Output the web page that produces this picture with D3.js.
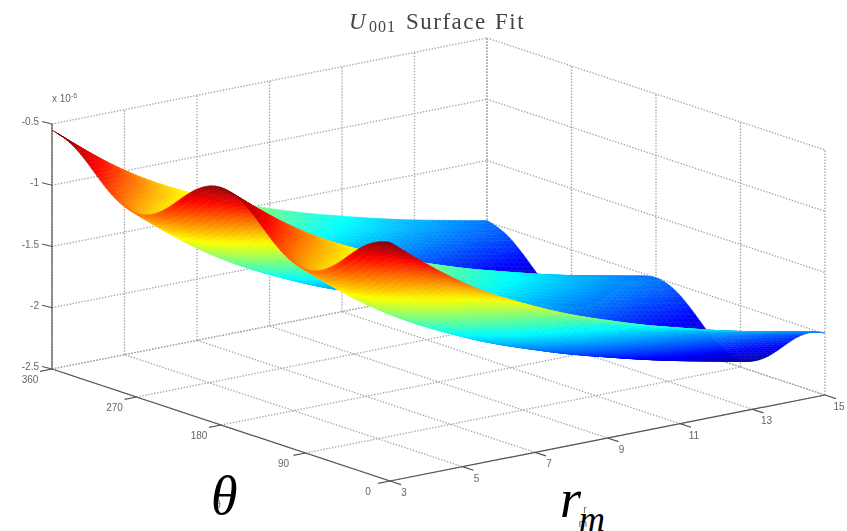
<!DOCTYPE html>
<html>
<head>
<meta charset="utf-8">
<script src="https://cdn.jsdelivr.net/npm/d3@7"></script>
<style>
  html, body { margin: 0; padding: 0; background: #fff; }
  svg { display: block; }
  .tick { font-family: "Liberation Sans", sans-serif; font-size: 10px; fill: #666; }
</style>
</head>
<body>
<div id="chart"></div>
<script>
/*** VALUES ***/

var rTicks = [3, 5, 7, 9, 11, 13, 15];
var thetaTicks = [0, 90, 180, 270, 360];
var zTicks = [-2.5, -2, -1.5, -1, -0.5];
var zTickLabels = ["-2.5", "-2", "-1.5", "-1", "-0.5"];

// height of the ridge (theta = 0, 180, 360) at r = 3, 4 ... 15, in units of 1e-6
var ridgeZ = [-0.55, -0.79, -1.0, -1.17, -1.31, -1.44, -1.54, -1.64, -1.72, -1.80, -1.87, -1.93, -1.99];
// how far the surface drops below the ridge at theta = 0, 15 ... 360
var waveDrop = [0, -0.03, -0.11, -0.23, -0.35, -0.43, -0.46, -0.43, -0.35, -0.23, -0.11, -0.03,
                0, -0.03, -0.11, -0.23, -0.35, -0.43, -0.46, -0.43, -0.35, -0.23, -0.11, -0.03, 0];

/*** PROJECTION OF THE BOX ON THE SCREEN ***/

var width = 847;
var height = 531;
var originX = 390;
var originY = 481;

var rX = d3.scaleLinear().domain([3, 15]).range([0, 435]);
var rY = d3.scaleLinear().domain([3, 15]).range([0, -86]);
var thetaX = d3.scaleLinear().domain([0, 360]).range([0, -338]);
var thetaY = d3.scaleLinear().domain([0, 360]).range([0, -112]);
var zY = d3.scaleLinear().domain([-2.5, -0.5]).range([0, -245]);

function project(r, theta, z) {
    return [originX + rX(r) + thetaX(theta), originY + rY(r) + thetaY(theta) + zY(z)];
}

var jet = d3.scaleLinear()
    .domain([0, 0.125, 0.375, 0.625, 0.875, 1])
    .range(["#00007f", "#0000ff", "#00ffff", "#ffff00", "#ff0000", "#7f0000"]);
var zToColor = d3.scaleLinear().domain([-2.44, -0.55]).range([0, 1]).clamp(true);

var ridge = d3.interpolateBasis(ridgeZ);
var wave = d3.interpolateBasis(waveDrop);
var rPos = d3.scaleLinear().domain([3, 15]).range([0, 1]);
var thetaPos = d3.scaleLinear().domain([0, 360]).range([0, 1]);

function surfaceZ(r, theta) {
    return ridge(rPos(r)) + wave(thetaPos(theta));
}

var line = d3.line();

var svg = d3.select("#chart").append("svg")
    .attr("width", width)
    .attr("height", height);

// the reference is a soft, upscaled bitmap
var chart = svg.append("g").style("filter", "blur(0.7px)");

/*** GRID ***/

var gridLines = [];
rTicks.forEach(function (r) {
    gridLines.push([project(r, 0, -2.5), project(r, 360, -2.5)]);
    gridLines.push([project(r, 360, -2.5), project(r, 360, -0.5)]);
});
thetaTicks.forEach(function (t) {
    gridLines.push([project(3, t, -2.5), project(15, t, -2.5)]);
    gridLines.push([project(15, t, -2.5), project(15, t, -0.5)]);
});
zTicks.forEach(function (z) {
    gridLines.push([project(3, 360, z), project(15, 360, z)]);
    gridLines.push([project(15, 360, z), project(15, 0, z)]);
});

chart.append("g").selectAll("path")
    .data(gridLines)
    .enter()
    .append("path")
    .attr("d", line)
    .attr("fill", "none")
    .attr("stroke", "#a4a4a4")
    .attr("stroke-width", 1.3)
    .attr("stroke-dasharray", "1.4 1.6");

/*** AXES ***/

var axisLines = [
    [project(3, 360, -2.5), project(3, 360, -0.5)],
    [project(3, 360, -2.5), project(3, 0, -2.5)],
    [project(3, 0, -2.5), project(15, 0, -2.5)]
];
var tickLines = [];
var rTickDir = [11, 3.6];
var thetaTickDir = [-12, 2.4];
var zTickDir = [-10, -2.5];
rTicks.forEach(function (r) {
    var p = project(r, 0, -2.5);
    tickLines.push([p, [p[0] + rTickDir[0], p[1] + rTickDir[1]]]);
});
thetaTicks.forEach(function (t) {
    var p = project(3, t, -2.5);
    tickLines.push([p, [p[0] + thetaTickDir[0], p[1] + thetaTickDir[1]]]);
});
zTicks.forEach(function (z) {
    var p = project(3, 360, z);
    tickLines.push([p, [p[0] + zTickDir[0], p[1] + zTickDir[1]]]);
});

chart.append("g").selectAll("path")
    .data(axisLines.concat(tickLines))
    .enter()
    .append("path")
    .attr("d", line)
    .attr("fill", "none")
    .attr("stroke", "#555")
    .attr("stroke-width", 1.2);

/*** TICK LABELS ***/

chart.append("g").selectAll("text")
    .data(rTicks)
    .enter()
    .append("text")
    .attr("class", "tick")
    .attr("text-anchor", "middle")
    .attr("x", function (d) { return project(d, 0, -2.5)[0] + 14; })
    .attr("y", function (d) { return project(d, 0, -2.5)[1] + 15; })
    .text(function (d) { return d; });

chart.append("g").selectAll("text")
    .data(thetaTicks)
    .enter()
    .append("text")
    .attr("class", "tick")
    .attr("text-anchor", "middle")
    .attr("x", function (d) { return project(3, d, -2.5)[0] - 22; })
    .attr("y", function (d) { return project(3, d, -2.5)[1] + 14; })
    .text(function (d) { return d; });

chart.append("g").selectAll("text")
    .data(zTicks)
    .enter()
    .append("text")
    .attr("class", "tick")
    .attr("text-anchor", "end")
    .attr("x", function (d) { return project(3, 360, d)[0] - 13; })
    .attr("y", function (d) { return project(3, 360, d)[1] + 1; })
    .text(function (d, i) { return zTickLabels[i]; });

var exponent = chart.append("text")
    .attr("class", "tick")
    .attr("x", 52)
    .attr("y", 102);
exponent.append("tspan").text("x 10");
exponent.append("tspan").attr("dy", -4).style("font-size", "7px").text("-6");

/*** SURFACE: back cells first so that the near ones paint over them ***/

var rStep = 0.15;
var thetaStep = 3;
var rSteps = d3.range(0, 80).map(function (i) { return 15 - (i + 1) * rStep; });
var thetaSteps = d3.range(0, 120).map(function (i) { return 360 - i * thetaStep; });
var cells = [];
thetaSteps.forEach(function (t) {
    rSteps.forEach(function (r) {
        var r2 = r + rStep;
        var t2 = t - thetaStep;
        cells.push({
            corners: [
                project(r, t, surfaceZ(r, t)),
                project(r2, t, surfaceZ(r2, t)),
                project(r2, t2, surfaceZ(r2, t2)),
                project(r, t2, surfaceZ(r, t2))
            ],
            z: surfaceZ(r + rStep / 2, t - thetaStep / 2)
        });
    });
});

chart.append("g").selectAll("path")
    .data(cells)
    .enter()
    .append("path")
    .attr("d", function (d) { return line(d.corners) + "Z"; })
    .attr("fill", function (d) { return jet(zToColor(d.z)); })
    .attr("stroke", function (d) { return jet(zToColor(d.z)); })
    .attr("stroke-width", 0.5);

/*** TITLE AND PASTED-ON LABELS ***/

var title = chart.append("text")
    .attr("x", 349)
    .attr("y", 29)
    .attr("fill", "#444")
    .style("font-family", "'Liberation Serif', serif")
    .style("font-size", "23px");
title.append("tspan").style("font-style", "italic").text("U");
title.append("tspan").attr("x", 369).attr("dy", 3).style("font-size", "16px").style("letter-spacing", "1px").text("001");
title.append("tspan").attr("x", 406).attr("dy", -3).style("letter-spacing", "1.5px").text("Surface");
title.append("tspan").attr("x", 495).style("letter-spacing", "1.5px").text("Fit");

// the small original axis labels stay visible under the big ones
var smallLabels = [
    { text: "\u03b8", x: 218, y: 508 },
    { text: "r", x: 585, y: 513 },
    { text: "m", x: 583, y: 527 }
];
chart.append("g").selectAll("text")
    .data(smallLabels)
    .enter()
    .append("text")
    .attr("class", "tick")
    .attr("text-anchor", "middle")
    .attr("x", function (d) { return d.x; })
    .attr("y", function (d) { return d.y; })
    .text(function (d) { return d.text; });

var bigLabels = [
    { text: "\u03b8", x: 211, y: 514, size: 54 },
    { text: "r", x: 560, y: 517, size: 54 },
    { text: "m", x: 579, y: 531, size: 36 }
];
svg.append("g").selectAll("text")
    .data(bigLabels)
    .enter()
    .append("text")
    .attr("x", function (d) { return d.x; })
    .attr("y", function (d) { return d.y; })
    .attr("fill", "#000")
    .style("font-family", "'Liberation Serif', serif")
    .style("font-style", "italic")
    .style("font-size", function (d) { return d.size + "px"; })
    .text(function (d) { return d.text; });
</script>
</body>
</html>
